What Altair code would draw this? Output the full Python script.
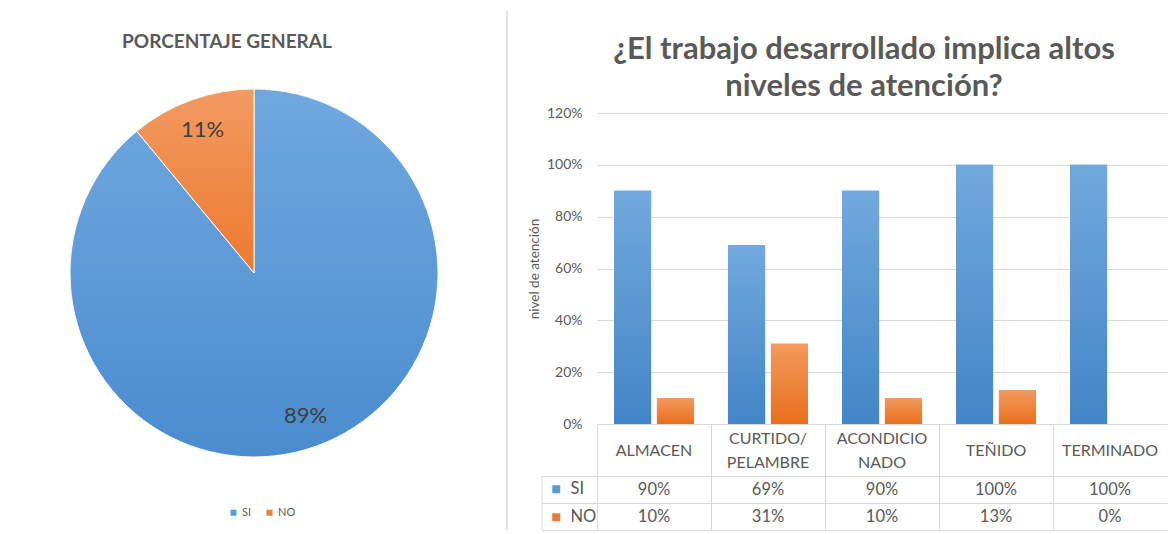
import altair as alt
import pandas as pd

# ---------------- data ----------------
categorias = ["ALMACEN", "CURTIDO/PELAMBRE", "ACONDICIONADO", "TEÑIDO", "TERMINADO"]
encabezados = [["ALMACEN"], ["CURTIDO/", "PELAMBRE"], ["ACONDICIO", "NADO"], ["TEÑIDO"], ["TERMINADO"]]
series = ["SI", "NO"]
valores_si = [0.90, 0.69, 0.90, 1.00, 1.00]
valores_no = [0.10, 0.31, 0.10, 0.13, 0.00]
pie_series = ["SI", "NO"]
pie_valores = [0.89, 0.11]
ticks_y = [0, 0.2, 0.4, 0.6, 0.8, 1.0, 1.2]

titulo_pie = "PORCENTAJE  GENERAL"
titulo_barras = ["¿El trabajo desarrollado implica altos", "niveles de atención?"]
titulo_eje_y = "nivel de atención"

# ---------------- style ----------------
FONT = "Lato"
TXT = "#595959"
LINE = "#d9d9d9"
SI_C, NO_C = "#5b9bd5", "#ed7d31"


def grad(top, bottom):
    return {"gradient": "linear", "x1": 0, "y1": 0, "x2": 0, "y2": 1,
            "stops": [{"offset": 0, "color": top}, {"offset": 1, "color": bottom}]}


PIE_W, PIE_H = 492, 320
BAR_W, BAR_H = 570, 311
HEADER_H, ROW_H, LEFT_COL = 52, 27, 55
TABLE_TOP = BAR_H + HEADER_H
TABLE_BOT = TABLE_TOP + 2 * ROW_H
LINE_H = 24

# ---------------- tables ----------------
rows = []
for c, s_, n_ in zip(categorias, valores_si, valores_no):
    rows.append({"categoria": c, "serie": "SI", "valor": s_})
    rows.append({"categoria": c, "serie": "NO", "valor": n_})
bars_df = pd.DataFrame(rows)
pie_df = pd.DataFrame({"serie": pie_series, "valor": pie_valores})

parts = []
for c, lines in zip(categorias, encabezados):
    arr = "[" + ",".join("'" + l + "'" for l in lines) + "]"
    parts.append(f"datum.label == '{c}' ? {arr} : ")
label_expr = "".join(parts) + "datum.label"
dos_lineas = [c for c, lines in zip(categorias, encabezados) if len(lines) > 1]
test_dos = "indexof([" + ",".join("'" + c + "'" for c in dos_lineas) + "], datum.value) >= 0"
base_pad = HEADER_H / 2
label_pad = {"condition": {"test": test_dos, "value": base_pad - LINE_H / 2}, "value": base_pad}

# ---------------- pie ----------------
pie_base = alt.Chart(pie_df).encode(
    theta=alt.Theta("valor:Q", stack=True),
    order=alt.Order("serie:N", sort="descending"),
)
pie_solid = pie_base.mark_arc(radius=184).encode(
    fill=alt.Fill("serie:N", scale=alt.Scale(domain=pie_series, range=[SI_C, NO_C]),
                  legend=alt.Legend(orient="none", legendX=220, legendY=394,
                                    direction="horizontal", title=None,
                                    symbolType="square", symbolSize=36,
                                    symbolStrokeWidth=0, labelFontSize=11,
                                    labelColor=TXT, labelFont=FONT, labelOffset=3,
                                    columnPadding=12, padding=0))
)
pie_grad = pie_base.mark_arc(radius=184, stroke="white", strokeWidth=1).encode(
    fill=alt.when(alt.datum.serie == "SI")
    .then(alt.value(grad("#70a8df", "#4a8ccf")))
    .otherwise(alt.value(grad("#f29a62", "#ee7a2f")))
)
pie_text = pie_base.mark_text(radius=152, fontSize=22, color="#404040", font=FONT).encode(
    text=alt.Text("valor:Q", format=".0%")
)
pie = alt.layer(pie_solid, pie_grad, pie_text).properties(
    width=PIE_W, height=PIE_H,
    title=alt.Title(titulo_pie, fontSize=19, fontWeight="bold", color=TXT, font=FONT,
                    anchor="middle", dx=-27, offset=35),
)

# ---------------- bars + table ----------------
x_scale = alt.Scale(domain=categorias, range=[0, BAR_W], paddingInner=0, paddingOuter=0)
# axis with the header labels (no ticks)
x_labels = alt.X(
    "categoria:N", sort=categorias, scale=x_scale,
    axis=alt.Axis(orient="bottom", labelExpr=label_expr, labelAngle=0, labelFontSize=16,
                  labelColor=TXT, labelFont=FONT, labelLineHeight=LINE_H,
                  labelBaseline="middle", labelPadding=label_pad,
                  ticks=False, tickSize=0, domain=False, grid=False, title=None,
                  labelOverlap=False),
)
# axis that draws the table's column borders (band edges inside the view)
x_cells = alt.X(
    "categoria:N", sort=categorias, scale=x_scale,
    axis=alt.Axis(orient="bottom", values=categorias[:-1], labels=False, ticks=True,
                  tickBand="extent", tickSize=HEADER_H + 2 * ROW_H, tickColor=LINE,
                  domain=False, grid=False, title=None),
)
xoff = alt.XOffset("serie:N", sort=series,
                   scale=alt.Scale(domain=series, paddingInner=0.136, paddingOuter=0.398))
y_enc = alt.Y(
    "valor:Q",
    scale=alt.Scale(domain=[0, 1.2], nice=False),
    axis=alt.Axis(values=ticks_y, format=".0%", grid=True, gridColor=LINE, domain=False,
                  ticks=False, labelPadding=15, labelFontSize=14, labelColor=TXT,
                  labelFont=FONT, title=titulo_eje_y, titleFontSize=13.5,
                  titleFontWeight="normal", titleColor=TXT, titleFont=FONT, titlePadding=5),
)

bars_solid = alt.Chart(bars_df).mark_bar().encode(
    x=x_labels, xOffset=xoff, y=y_enc,
    fill=alt.Fill("serie:N", scale=alt.Scale(domain=series, range=[SI_C, NO_C]),
                  legend=alt.Legend(orient="none", legendX=-49, legendY=TABLE_TOP + 5,
                                    direction="vertical", title=None, symbolType="square",
                                    symbolSize=64, symbolStrokeWidth=0, labelFontSize=16.5,
                                    labelColor=TXT, labelFont=FONT, labelOffset=6,
                                    rowPadding=ROW_H - 16, padding=0)),
)
bars_grad = alt.Chart(bars_df).mark_bar().encode(
    x=x_labels, xOffset=xoff, y=y_enc,
    fill=alt.when(alt.datum.serie == "SI")
    .then(alt.value(grad("#72a8dd", "#4385c7")))
    .otherwise(alt.value(grad("#f39a5d", "#e96f1c"))),
)
bars = alt.layer(bars_solid, bars_grad)

table = alt.Chart(bars_df).mark_text(fontSize=16.5, color=TXT, font=FONT).encode(
    x=x_cells,
    y=alt.Y("serie:N", sort=series,
            scale=alt.Scale(domain=series, range=[TABLE_TOP, TABLE_BOT],
                            paddingInner=0, paddingOuter=0),
            axis=alt.Axis(orient="left", labels=False, domain=False, ticks=True,
                          tickBand="extent", tickSize=LEFT_COL, tickColor=LINE,
                          grid=True, gridColor=LINE, title=None)),
    text=alt.Text("valor:Q", format=".0%"),
)
one = alt.Data(values=[{"k": 1}])
divider = alt.Chart(one).mark_rule(color="#e3e3e3", strokeWidth=2).encode(
    x=alt.value(-90), y=alt.value(-102), y2=alt.value(TABLE_BOT)
)
left_border = alt.Chart(one).mark_rule(color=LINE, strokeWidth=1).encode(
    x=alt.value(-LEFT_COL), y=alt.value(TABLE_TOP), y2=alt.value(TABLE_BOT)
)

right = alt.layer(divider, left_border, bars, table).resolve_scale(
    y="independent"
).resolve_axis(x="independent").properties(
    width=BAR_W, height=BAR_H,
    title=alt.Title(titulo_barras, fontSize=31, fontWeight="bold", color=TXT, font=FONT,
                    lineHeight=37, anchor="middle", dx=-18, offset=-92.5),
)

chart = alt.hconcat(pie, right, spacing=97, bounds="flush").resolve_scale(
    fill="independent"
).resolve_legend(fill="independent").properties(
    padding={"left": 0, "top": 1, "right": 0, "bottom": 0}
).configure(font=FONT).configure_view(stroke="transparent", fill="white")

chart.save("out.html", embed_options={"renderer": "svg", "actions": False})
